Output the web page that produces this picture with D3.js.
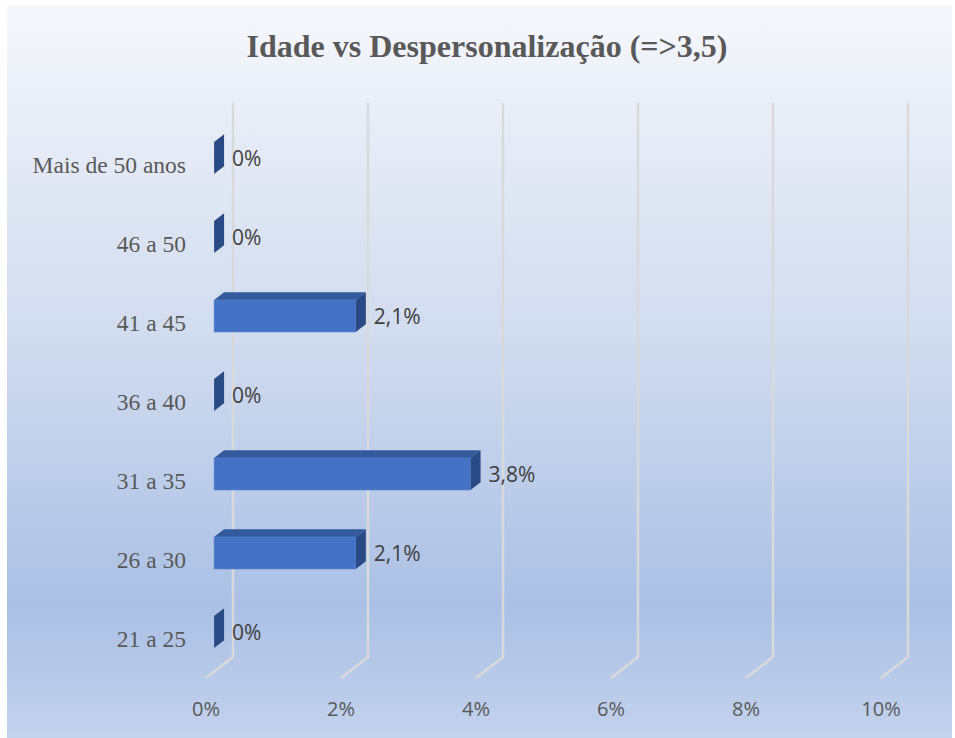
<!DOCTYPE html>
<html>
<head>
<meta charset="utf-8">
<script src="https://cdn.jsdelivr.net/npm/d3@7"></script>
<style>
  html, body { margin: 0; padding: 0; background: #ffffff; }
  svg { display: block; }
</style>
</head>
<body>
<svg id="chart" width="955" height="738"></svg>
<script>
// Age groups, top to bottom as shown on the vertical axis
const categories = ["Mais de 50 anos", "46 a 50", "41 a 45", "36 a 40", "31 a 35", "26 a 30", "21 a 25"];
// Share with depersonalisation score >= 3.5 in each age group
const values = [0, 0, 0.021, 0, 0.038, 0.021, 0];
const valueLabels = ["0%", "0%", "2,1%", "0%", "3,8%", "2,1%", "0%"];
const tickValues = [0, 0.02, 0.04, 0.06, 0.08, 0.10];
const tickLabels = ["0%", "2%", "4%", "6%", "8%", "10%"];
const title = "Idade vs Despersonalização (=>3,5)";

const svg = d3.select("#chart");
const W = 955, H = 738;

// Background gradient panel
const defs = svg.append("defs");
const grad = defs.append("linearGradient").attr("id", "bg")
  .attr("x1", 0).attr("y1", 0).attr("x2", 0).attr("y2", 1);
[[0, "#f6f8fc"], [0.15, "#e8edf7"], [0.45, "#d1dcef"], [0.82, "#abc0e5"], [1, "#c3d2ed"]]
  .forEach(([o, c]) => grad.append("stop").attr("offset", o).attr("stop-color", c));
svg.append("rect").attr("x", 7).attr("y", 5).attr("width", W - 10).attr("height", H - 5)
  .attr("fill", "url(#bg)");

// Title
svg.append("text")
  .attr("x", 487).attr("y", 57)
  .attr("text-anchor", "middle")
  .attr("font-family", "'Liberation Serif', 'Times New Roman', serif")
  .attr("font-weight", "bold")
  .attr("font-size", 32)
  .attr("fill", "#595959")
  .text(title);

// Back-wall value scale; depth shifts points left and down
const x = d3.scaleLinear().domain([0, 0.10]).range([233, 908]);
const depth = { dx: -27, dy: 21 };          // back wall -> front of floor
const wallTop = 103, wallBottom = 657;
const shift = t => ({ dx: depth.dx * t, dy: depth.dy * t });
const backT = 0.33, frontT = 0.70;           // bar depth position
const bBack = shift(backT), bFront = shift(frontT);

// Category rows (front-face centres)
const y = d3.scalePoint().domain(categories).range([158, 632]);
const halfH = 16;

// Gridlines: vertical on back wall, diagonal across the floor
const grid = svg.append("g").attr("fill", "none").attr("stroke", "#d9d9d9")
  .attr("stroke-width", 2.5).attr("stroke-linejoin", "round");
tickValues.forEach(v => {
  const gx = x(v);
  grid.append("path").attr("d", d3.line()([
    [gx, wallTop], [gx, wallBottom], [gx + depth.dx, wallBottom + depth.dy]
  ]));
});

// Value axis labels at the floor front
svg.append("g").selectAll("text").data(tickValues).join("text")
  .attr("x", v => x(v) + depth.dx)
  .attr("y", 716)
  .attr("text-anchor", "middle")
  .attr("font-family", "'Open Sans', 'Noto Sans', sans-serif")
  .attr("font-size", 20)
  .attr("fill", "#595959")
  .text((v, i) => tickLabels[i]);

// Category labels
svg.append("g").selectAll("text").data(categories).join("text")
  .attr("x", 186)
  .attr("y", c => y(c) + 15)
  .attr("text-anchor", "end")
  .attr("font-family", "'Liberation Serif', 'Times New Roman', serif")
  .attr("font-size", 23.5)
  .attr("fill", "#595959")
  .text(c => c);

// 3D bars
const bars = svg.append("g");
categories.forEach((c, i) => {
  const v = values[i];
  const cy = y(c);
  // front face corners (front depth), back offset
  const fx0 = x(0) + bFront.dx, fx1 = x(v) + bFront.dx;
  const fy0 = cy - halfH, fy1 = cy + halfH;
  const ox = bBack.dx - bFront.dx, oy = bBack.dy - bFront.dy; // front -> back

  const g = bars.append("g");
  if (v > 0) {
    // top face
    g.append("path").attr("fill", "#335a9c")
      .attr("d", d3.line()([[fx0, fy0], [fx1, fy0], [fx1 + ox, fy0 + oy], [fx0 + ox, fy0 + oy]]) + "Z");
    // front face
    g.append("rect").attr("x", fx0).attr("y", fy0).attr("width", fx1 - fx0).attr("height", fy1 - fy0)
      .attr("fill", "#4472c4").attr("stroke", "#5b84cc").attr("stroke-width", 0.6);
  }
  // right side face
  g.append("path").attr("fill", "#294a84")
    .attr("d", d3.line()([[fx1, fy0], [fx1 + ox, fy0 + oy], [fx1 + ox, fy1 + oy], [fx1, fy1]]) + "Z");

  // value label
  svg.append("text")
    .attr("x", fx1 + ox + 8)
    .attr("y", cy + 8)
    .attr("font-family", "'Open Sans', 'Noto Sans', sans-serif")
    .attr("font-size", 21)
    .attr("fill", "#404040")
    .text(valueLabels[i]);
});
</script>
</body>
</html>
